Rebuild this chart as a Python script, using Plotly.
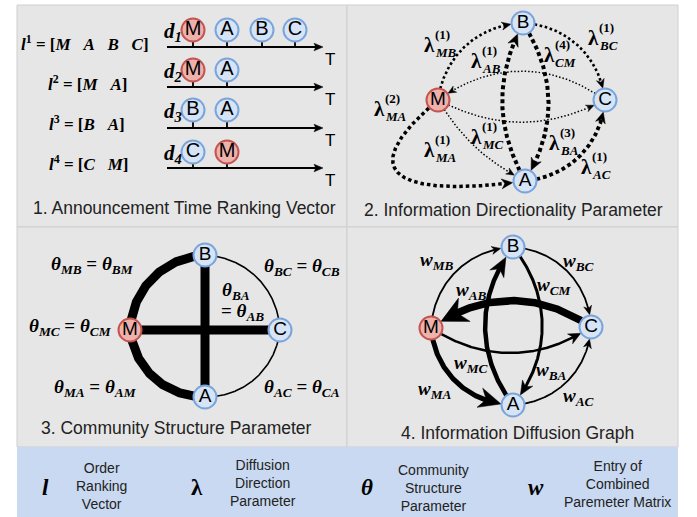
import numpy as np
import plotly.graph_objects as go

W, H = 697, 517
SANS = "Liberation Sans, Arial, sans-serif"
SERIF = "Liberation Serif, DejaVu Serif, serif"

# ---------------- data ----------------
node_names = ["M", "A", "B", "C"]
rankings = [["M", "A", "B", "C"], ["M", "A"], ["B", "A"], ["C", "M"]]
doc_ids = ["1", "2", "3", "4"]
time_axis_label = "T"

direction_edges = [("M", "B"), ("B", "C"), ("C", "M"), ("M", "C"), ("A", "B"),
                   ("B", "A"), ("M", "A"), ("M", "A"), ("A", "C")]
direction_orders = ["1", "1", "4", "1", "1", "3", "1", "2", "1"]

community_pairs = [("M", "B"), ("M", "A"), ("B", "C"), ("A", "C"), ("B", "A"), ("M", "C")]
community_strength = ["strong", "strong", "weak", "weak", "strong", "strong"]

diffusion_edges = [("M", "B"), ("B", "C"), ("A", "C"), ("M", "A"),
                   ("C", "M"), ("M", "C"), ("A", "B"), ("B", "A")]

panel_titles = ["1. Announcement Time Ranking Vector",
                "2. Information Directionality Parameter",
                "3. Community Structure Parameter",
                "4. Information Diffusion Graph"]

legend_symbols = ["<b><i>l</i></b>", "<b>λ</b>", "<b><i>θ</i></b>", "<b><i>w</i></b>"]
legend_texts = ["Order<br>Ranking<br>Vector",
                "Diffusion<br>Direction<br>Parameter",
                "Community<br>Structure<br>Parameter",
                "Entry of<br>Combined<br>Paremeter Matrix"]

# ---------------- layout / style ----------------
NODE_R = 11.5
node_fill = {"M": "#eeb1ac", "A": "#d6e4f6", "B": "#d6e4f6", "C": "#d6e4f6"}
node_line = {"M": "#c4544f", "A": "#7aa5dc", "B": "#7aa5dc", "C": "#7aa5dc"}

P2 = {"M": (438, 100), "B": (523, 23), "C": (605, 100), "A": (525, 181)}
P3 = {"M": (130, 330), "B": (205, 255), "C": (280, 330), "A": (205, 397)}
P4 = {"M": (431, 328), "B": (513, 247), "C": (591, 327), "A": (513, 405)}

dir_style = [
    dict(bend=40, w=2.6, gap=2.6, L=9, AW=4),
    dict(bend=40, w=2.6, gap=2.6, L=9, AW=4),
    dict(bend=-36, w=1.5, gap=2.0, L=8, AW=3.5),
    dict(bend=-27, w=1.5, gap=2.0, L=8, AW=3.5),
    dict(bend=28, w=4.0, gap=3.0, L=12, AW=5.5),
    dict(bend=32, w=4.0, gap=3.0, L=12, AW=5.5),
    dict(bend=-15, w=1.5, gap=2.0, L=8, AW=3.5),
    dict(out=220, inn=188, loose=2.6, w=3.5, gap=3.0, L=11, AW=5),
    dict(bend=-40, w=3.8, gap=3.0, L=11, AW=5),
]
dir_label_pos = [(423, 45), (587, 38), (543, 55), (470, 137), (470, 61),
                 (548, 143), (423, 150), (373, 109), (580, 167)]

com_style = [dict(bend=42, w=9), dict(bend=-42, w=9), dict(bend=42, w=1.6),
             dict(bend=-42, w=1.6), dict(bend=0, w=9), dict(bend=0, w=9)]
com_label_pos = [(92, 265), (95, 388), (302, 267), (302, 388), (236, 291), (70, 327)]

dif_style = [
    dict(bend=42, w=1.8, L=9, AW=4),
    dict(bend=42, w=1.8, L=9, AW=4),
    dict(bend=-42, w=1.8, L=9, AW=4),
    dict(bend=-42, w=5.0, L=22, AW=10),
    dict(bend=-35, w=7.5, L=26, AW=13),
    dict(bend=-33, w=2.5, L=12, AW=5.5),
    dict(bend=37, w=4.5, L=19, AW=8),
    dict(bend=39, w=3.0, L=14, AW=6),
]
dif_label_pos = [(437, 261), (578, 262), (578, 397), (435, 390),
                 (554, 286), (471, 364), (471, 291), (551, 371)]

row_circle_y = [30, 70, 110, 152]
row_line_y = [47, 87, 128, 168]
slot_x = [193, 227, 262, 295]
rank_label_pos = [(85, 43), (87, 83), (87, 123), (88, 163)]

traces = []
annotations = []
shapes = []


def ann(x, y, text, size, family, color="black", xanchor="center", yanchor="middle"):
    annotations.append(dict(x=x, y=y, xref="x", yref="y", text=text, showarrow=False,
                            font=dict(size=size, family=family, color=color),
                            xanchor=xanchor, yanchor=yanchor, borderpad=0))


def bez(p0, p1, bend=0, loose=1.0, out=None, inn=None, n=400):
    p0 = np.array(p0, float)
    p1 = np.array(p1, float)
    dx, dy = p1 - p0
    a = np.degrees(np.arctan2(-dy, dx))
    if out is None:
        out = a + bend
    if inn is None:
        inn = a + 180 - bend
    d = np.hypot(dx, dy) * 0.3915 * loose
    c1 = p0 + d * np.array([np.cos(np.radians(out)), -np.sin(np.radians(out))])
    c2 = p1 + d * np.array([np.cos(np.radians(inn)), -np.sin(np.radians(inn))])
    t = np.linspace(0, 1, n)[:, None]
    return (1 - t) ** 3 * p0 + 3 * (1 - t) ** 2 * t * c1 + 3 * (1 - t) * t ** 2 * c2 + t ** 3 * p1


def line_trace(pts, width, dash="solid"):
    traces.append(go.Scatter(x=pts[:, 0], y=pts[:, 1], mode="lines",
                             line=dict(color="black", width=width, dash=dash),
                             hoverinfo="skip", showlegend=False))


def arrow_poly(tip, direction, L, AW, notch=0.7):
    d = direction / np.hypot(*direction)
    pp = np.array([-d[1], d[0]])
    base = tip - d * L
    pts = np.array([tip, base + pp * AW, tip - d * L * notch, base - pp * AW, tip])
    traces.append(go.Scatter(x=pts[:, 0], y=pts[:, 1], mode="lines", fill="toself",
                             fillcolor="black", line=dict(color="black", width=0.5),
                             hoverinfo="skip", showlegend=False))


def draw_edge(p0, p1, st, dash="solid", arrow=True):
    pts = bez(p0, p1, bend=st.get("bend", 0), loose=st.get("loose", 1.0),
              out=st.get("out"), inn=st.get("inn"))
    p0a, p1a = np.array(p0, float), np.array(p1, float)
    d0 = np.hypot(*(pts - p0a).T)
    d1 = np.hypot(*(pts - p1a).T)
    if arrow:
        L = st["L"]
        r_tip = NODE_R + 0.5
        i_tip = np.where(d1 >= r_tip)[0][-1]
        i_back = np.where(d1 >= r_tip + L)[0][-1]
        tip = pts[i_tip]
        direction = tip - pts[i_back]
        cut = r_tip + L * 0.55
        seg = pts[(d0 >= NODE_R) & (d1 >= cut)]
        line_trace(seg, st["w"], dash)
        arrow_poly(tip, direction, L, st["AW"])
    else:
        seg = pts[(d0 >= NODE_R - 2) & (d1 >= NODE_R - 2)]
        line_trace(seg, st["w"], dash)


def draw_nodes(names, xs, ys, size=19):
    traces.append(go.Scatter(
        x=xs, y=ys, mode="markers+text", text=names, textposition="middle center",
        textfont=dict(size=size, family=SANS, color="black"),
        marker=dict(size=2 * NODE_R, color=[node_fill[n] for n in names],
                    line=dict(color=[node_line[n] for n in names], width=2)),
        hoverinfo="skip", showlegend=False))


# ---------------- panels background ----------------
panel_boxes = [(17, 5, 347, 227), (347, 5, 678, 227), (17, 227, 347, 447), (347, 227, 678, 447)]
for (x0, y0, x1, y1) in panel_boxes:
    shapes.append(dict(type="rect", xref="x", yref="y", x0=x0, y0=y0, x1=x1, y1=y1,
                       fillcolor="#e6e6e6", line=dict(color="#cfcfcf", width=1), layer="below"))
shapes.append(dict(type="rect", xref="x", yref="y", x0=17, y0=447, x1=678, y1=517,
                   fillcolor="#c9d9f1", line=dict(width=0), layer="below"))

# ---------------- panel 1 ----------------
for r, ranking in enumerate(rankings):
    ly = row_line_y[r]
    line_trace(np.array([[167, ly], [316, ly]]), 2)
    arrow_poly(np.array([323.0, ly]), np.array([1.0, 0.0]), 9, 3.8, notch=0.8)
    ann(330, ly + 12, time_axis_label, 17, SANS)
    for k, name in enumerate(ranking):
        line_trace(np.array([[slot_x[k], row_circle_y[r] + NODE_R], [slot_x[k], ly]]), 1.8)
    draw_nodes(ranking, slot_x[:len(ranking)], [row_circle_y[r]] * len(ranking), size=20)
    ann(163, row_circle_y[r] + 2, f"<b><i>d</i></b><sub><b><i>{doc_ids[r]}</i></b></sub>", 21,
        SERIF, xanchor="left")
    sp = "\u00a0\u00a0\u00a0"
    items = sp.join(f"<i>{n}</i>" for n in ranking)
    ann(rank_label_pos[r][0], rank_label_pos[r][1],
        f"<b><i>l</i></b><sup><b>{doc_ids[r]}</b></sup><b> = [{items}]</b>", 17, SERIF)
ann(184, 208, panel_titles[0], 17.5, SANS, color="#222222")

# ---------------- panel 2 ----------------
for (a, b), st in zip(direction_edges, dir_style):
    gap = st["gap"]
    draw_edge(P2[a], P2[b], st, dash=f"{st['w']}px,{gap}px")
draw_nodes(list(P2.keys()), [v[0] for v in P2.values()], [v[1] for v in P2.values()])
for (a, b), order, (lx, ly) in zip(direction_edges, direction_orders, dir_label_pos):
    ann(lx, ly, "<b>λ</b>", 21, SERIF, xanchor="left")
    ann(lx + 11, ly - 11, f"<b>({order})</b>", 13, SERIF, xanchor="left")
    ann(lx + 11, ly + 7, f"<b><i>{a}{b}</i></b>", 13, SERIF, xanchor="left")
ann(513, 210, panel_titles[1], 17.5, SANS, color="#222222")

# ---------------- panel 3 ----------------
for (a, b), st in zip(community_pairs, com_style):
    draw_edge(P3[a], P3[b], st, arrow=False)
draw_nodes(list(P3.keys()), [v[0] for v in P3.values()], [v[1] for v in P3.values()])


def theta(s):
    return f"<b><i>θ</i></b><sub><b><i>{s}</i></b></sub>"


for (a, b), (lx, ly) in zip(community_pairs, com_label_pos):
    if (a, b) == ("B", "A"):
        ann(lx, ly, theta(a + b), 19, SERIF)
        ann(lx + 6, ly + 21, "<b>= </b>" + theta(b + a), 19, SERIF)
    else:
        ann(lx, ly, theta(a + b) + "<b> = </b>" + theta(b + a), 19, SERIF)
ann(176, 428, panel_titles[2], 17.5, SANS, color="#222222")

# ---------------- panel 4 ----------------
for (a, b), st in zip(diffusion_edges, dif_style):
    draw_edge(P4[a], P4[b], st)
draw_nodes(list(P4.keys()), [v[0] for v in P4.values()], [v[1] for v in P4.values()])
for (a, b), (lx, ly) in zip(diffusion_edges, dif_label_pos):
    ann(lx, ly, f"<b><i>w</i></b><sub><b><i>{a}{b}</i></b></sub>", 19, SERIF)
ann(517, 433, panel_titles[3], 17.5, SANS, color="#222222")

# ---------------- legend strip ----------------
sym_x = [45, 197, 367, 536]
txt_x = [101, 263, 433, 617]
txt_y = [486, 483, 488, 484]
for s, t, sx, tx, ty in zip(legend_symbols, legend_texts, sym_x, txt_x, txt_y):
    ann(sx, 487, s, 23, SERIF)
    ann(tx, ty, t, 14, SANS, color="#222222")

fig = go.Figure(traces)
fig.update_layout(
    width=W, height=H, margin=dict(l=0, r=0, t=0, b=0),
    paper_bgcolor="white", plot_bgcolor="white",
    xaxis=dict(range=[0, W], visible=False, fixedrange=True),
    yaxis=dict(range=[H, 0], visible=False, fixedrange=True),
    shapes=shapes, annotations=annotations, showlegend=False,
)
fig.write_html("out.html",
               post_script="document.body.style.margin='0';document.body.style.padding='0';"
                           "document.body.style.overflow='hidden';",
               config={"displayModeBar": False})
